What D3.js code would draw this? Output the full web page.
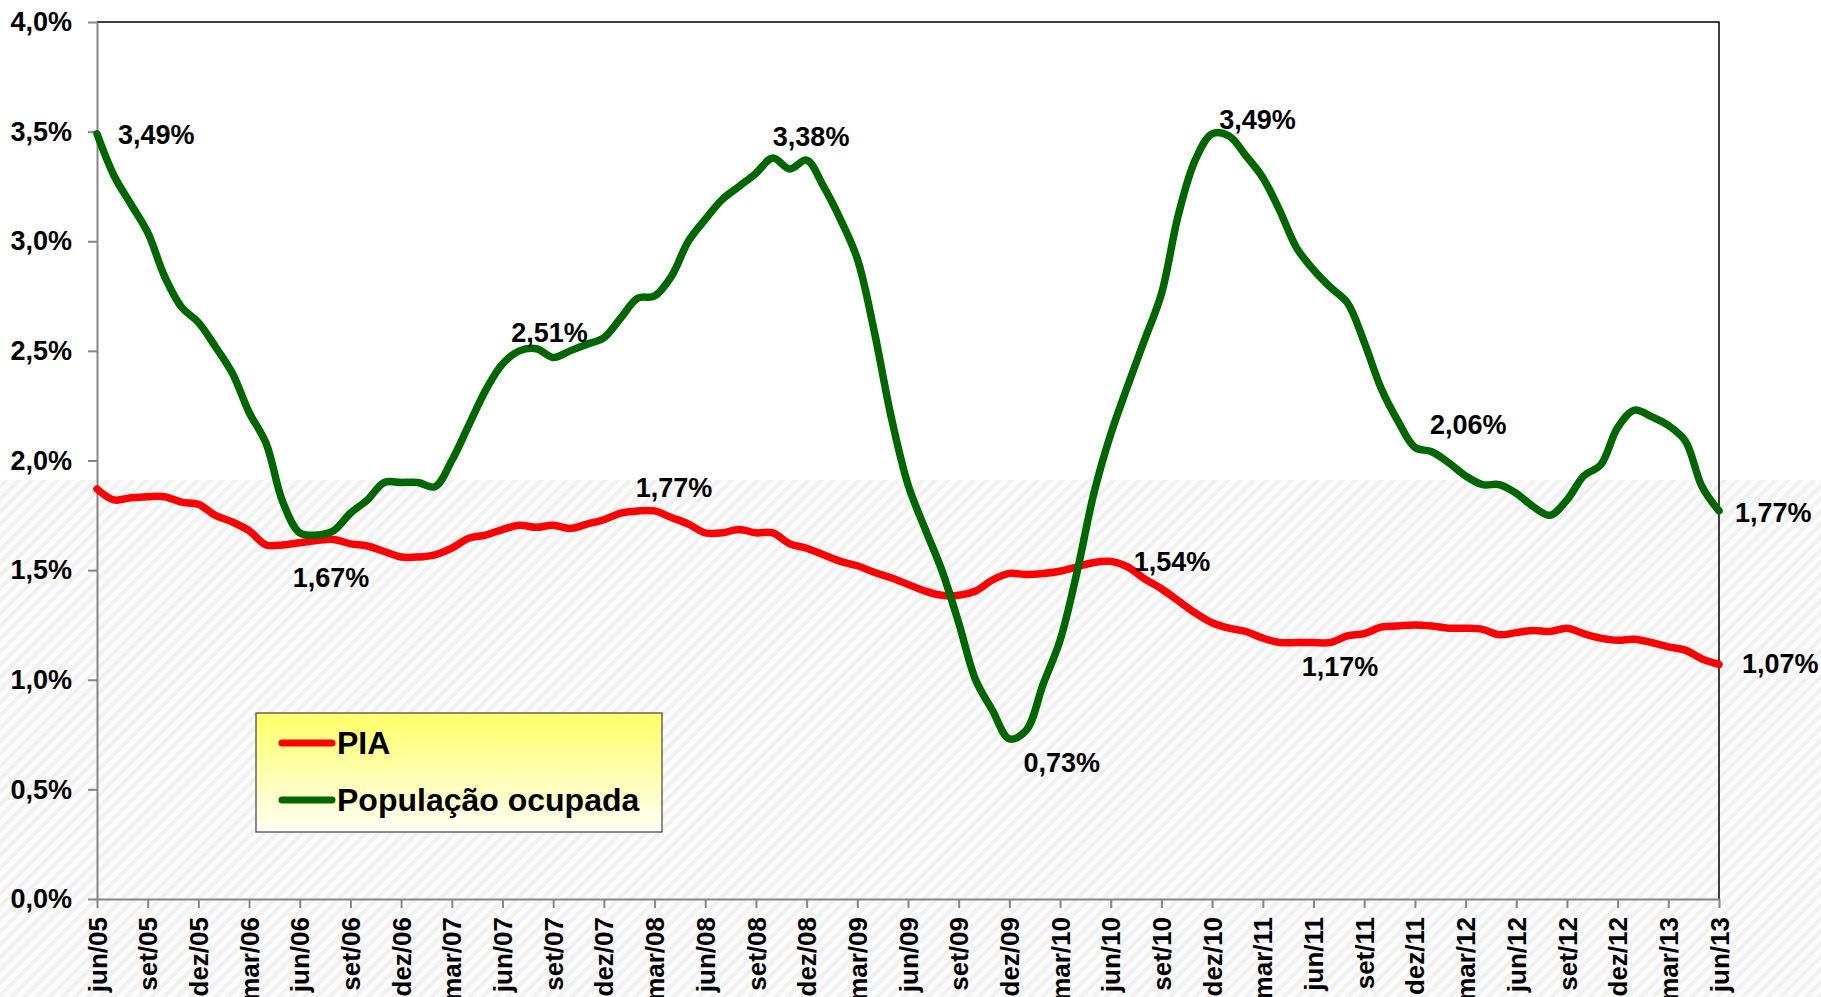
<!DOCTYPE html>
<html lang="pt-BR">
<head>
<meta charset="utf-8" />
<title>PIA e População ocupada</title>
<style>
  body { margin:0; background:#fff; }
  svg  { display:block; font-family:"Liberation Sans",Arial,sans-serif; font-weight:bold; }

  /* AXES */
  .axis path, .axis line { stroke:#868686; stroke-width:2px; }
  .axis text { fill:#000; }
  .frame     { stroke:#000; stroke-width:1.5px; }

  /* SERIES */
  .series { fill:none; stroke-width:7.5px; stroke-linejoin:round; stroke-linecap:round; }
  .dataLabel { font-size:27px; fill:#000; }
</style>
</head>
<body>
<svg width="1821" height="997"></svg>

<script src="https://cdn.jsdelivr.net/npm/d3@7"></script>
<script>
/* ---------- DATA ---------- */
const monthNames = ["jan","fev","mar","abr","mai","jun","jul","ago","set","out","nov","dez"];
// jun/05 .. jun/13, one entry per month
const categories = d3.range(97).map(i => {
  const m = 5 + i;
  return monthNames[m % 12] + "/" + String(5 + Math.floor(m / 12)).padStart(2, "0");
});

const tickLabels = [
  "jun/05","set/05","dez/05","mar/06","jun/06","set/06","dez/06","mar/07","jun/07",
  "set/07","dez/07","mar/08","jun/08","set/08","dez/08","mar/09","jun/09","set/09",
  "dez/09","mar/10","jun/10","set/10","dez/10","mar/11","jun/11","set/11","dez/11",
  "mar/12","jun/12","set/12","dez/12","mar/13","jun/13"
];

const yTicks = [0, 0.5, 1, 1.5, 2, 2.5, 3, 3.5, 4];

// % change, 12-month accumulated
const pia = [
  1.87, 1.82, 1.83, 1.835, 1.835, 1.81, 1.80, 1.75, 1.72, 1.68,
  1.615, 1.615, 1.625, 1.635, 1.64, 1.62, 1.61, 1.585, 1.56, 1.56,
  1.57, 1.60, 1.645, 1.66, 1.685, 1.705, 1.695, 1.705, 1.69, 1.71,
  1.73, 1.76, 1.77, 1.77, 1.74, 1.71, 1.67, 1.67, 1.685, 1.67,
  1.67, 1.62, 1.60, 1.57, 1.54, 1.52, 1.49, 1.465, 1.435, 1.405,
  1.385, 1.385, 1.405, 1.455, 1.485, 1.48, 1.485, 1.495, 1.515, 1.535,
  1.54, 1.515, 1.46, 1.415, 1.36, 1.305, 1.26, 1.235, 1.22, 1.19,
  1.17, 1.17, 1.17, 1.17, 1.20, 1.21, 1.24, 1.245, 1.25, 1.245,
  1.235, 1.235, 1.23, 1.205, 1.215, 1.225, 1.22, 1.235, 1.21, 1.19,
  1.18, 1.185, 1.17, 1.15, 1.135, 1.095, 1.07
];

const ocupada = [
  3.49, 3.30, 3.17, 3.04, 2.84, 2.70, 2.63, 2.52, 2.40, 2.22,
  2.08, 1.81, 1.67, 1.66, 1.68, 1.76, 1.82, 1.90, 1.90, 1.90,
  1.88, 2.00, 2.16, 2.32, 2.44, 2.50, 2.51, 2.47, 2.50, 2.53,
  2.56, 2.65, 2.74, 2.75, 2.84, 3.00, 3.10, 3.19, 3.25, 3.31,
  3.38, 3.33, 3.37, 3.25, 3.10, 2.92, 2.59, 2.20, 1.89, 1.69,
  1.50, 1.26, 1.00, 0.86, 0.73, 0.77, 0.98, 1.18, 1.49, 1.85,
  2.12, 2.34, 2.55, 2.76, 3.12, 3.37, 3.49, 3.48, 3.39, 3.29,
  3.14, 2.97, 2.87, 2.79, 2.72, 2.54, 2.33, 2.18, 2.06, 2.04,
  1.99, 1.93, 1.89, 1.89, 1.85, 1.79, 1.75, 1.82, 1.93, 1.98,
  2.15, 2.23, 2.20, 2.16, 2.09, 1.88, 1.77
];

const seriesNames  = ["PIA", "População ocupada"];
const seriesValues = [pia, ocupada];

// labelled points: [series index, month index]
const labelPoints = [
  [1, 0], [1, 12], [1, 26], [1, 40], [0, 32], [1, 54],
  [1, 66], [0, 60], [1, 78], [0, 70], [1, 96], [0, 96]
];

/* ---------- STYLE / LAYOUT ---------- */
const W = 1821, H = 997;
const margin = { top:22, right:102, bottom:98, left:97 };
const colors = ["#ff0000", "#006600"];
const hatchTop = 480;
// label nudges relative to their point (text start, baseline)
const labelNudge = [
  [21, 10], [-7, 54], [-25, -7], [0, -12], [-2, -14], [14, 33],
  [7, -5], [23, 10], [15, -13], [22, 34], [16, 11], [23, 9]
];

const br = d3.formatLocale({ decimal:",", thousands:".", grouping:[3], currency:["R$",""] });
const f1 = br.format(".1f"), f2 = br.format(".2f");

/* ---------- SVG SET-UP ---------- */
const svg  = d3.select("svg");
const defs = svg.append("defs");

const hatch = defs.append("pattern")
    .attr("id","hatch").attr("patternUnits","userSpaceOnUse")
    .attr("width",9).attr("height",9).attr("patternTransform","rotate(45)");
hatch.append("rect").attr("width",9).attr("height",9).attr("fill","#fcfcfc");
hatch.append("rect").attr("width",4).attr("height",9).attr("fill","#f1f1f1");

const legGrad = defs.append("linearGradient")
    .attr("id","legGrad").attr("x1",0).attr("y1",0).attr("x2",0).attr("y2",1);
legGrad.append("stop").attr("offset","0%").attr("stop-color","#ffff66");
legGrad.append("stop").attr("offset","100%").attr("stop-color","#fffff6");

svg.append("rect").attr("width",W).attr("height",H).attr("fill","#fff");
svg.append("rect").attr("y",hatchTop).attr("width",W).attr("height",H-hatchTop).attr("fill","url(#hatch)");

/* ---------- SCALES ---------- */
const x = d3.scalePoint().domain(categories).range([margin.left, W - margin.right]);
const y = d3.scaleLinear().domain([0, 4]).range([H - margin.bottom, margin.top]);

/* ---------- FRAME (top / right) ---------- */
svg.append("path").attr("class","frame").attr("fill","none")
   .attr("d", `M${margin.left},${y(4)}H${W - margin.right}V${y(0)}`);

/* ---------- AXES ---------- */
svg.append("g").attr("class","axis")
    .attr("transform",`translate(${margin.left},0)`)
    .call(d3.axisLeft(y).tickValues(yTicks).tickSize(9).tickSizeOuter(0).tickPadding(16)
            .tickFormat(d => f1(d) + "%"))
    .call(g => g.selectAll("text").attr("font-size",27));

svg.append("g").attr("class","axis")
    .attr("transform",`translate(0,${y(0)})`)
    .call(d3.axisBottom(x).tickValues(tickLabels).tickSize(9).tickSizeOuter(0))
    .call(g => g.selectAll("text")
        .attr("font-size",26)
        .attr("transform","rotate(-90)")
        .attr("text-anchor","end")
        .attr("x",-18).attr("y",0).attr("dy","0.35em"));

/* ---------- LINES ---------- */
const line = d3.line()
    .x((d, i) => x(categories[i]))
    .y(d => y(d))
    .curve(d3.curveCatmullRom.alpha(0.5));

svg.append("g").selectAll("path")
  .data(seriesValues)
  .join("path")
    .attr("class","series")
    .attr("stroke",(d, i) => colors[i])
    .attr("d", line);

/* ---------- DATA LABELS ---------- */
svg.append("g").selectAll("text")
  .data(labelPoints)
  .join("text")
    .attr("class","dataLabel")
    .attr("x",([s, i], k) => x(categories[i]) + labelNudge[k][0])
    .attr("y",([s, i], k) => y(seriesValues[s][i]) + labelNudge[k][1])
    .text(([s, i]) => f2(seriesValues[s][i]) + "%");

/* ---------- LEGEND ---------- */
const leg = svg.append("g").attr("transform","translate(256,713)");
leg.append("rect").attr("width",406).attr("height",119)
   .attr("fill","url(#legGrad)").attr("stroke","#404040").attr("stroke-width",1.2);

const item = leg.selectAll("g.item")
  .data(seriesNames)
  .join("g").attr("class","item")
    .attr("transform",(d, i) => `translate(26,${30 + i * 57})`);
item.append("line")
    .attr("x1",0).attr("x2",50)
    .attr("stroke",(d, i) => colors[i]).attr("stroke-width",7).attr("stroke-linecap","round");
item.append("text")
    .attr("x",55).attr("dy","0.35em").attr("font-size",32)
    .text(d => d);
</script>
</body>
</html>
